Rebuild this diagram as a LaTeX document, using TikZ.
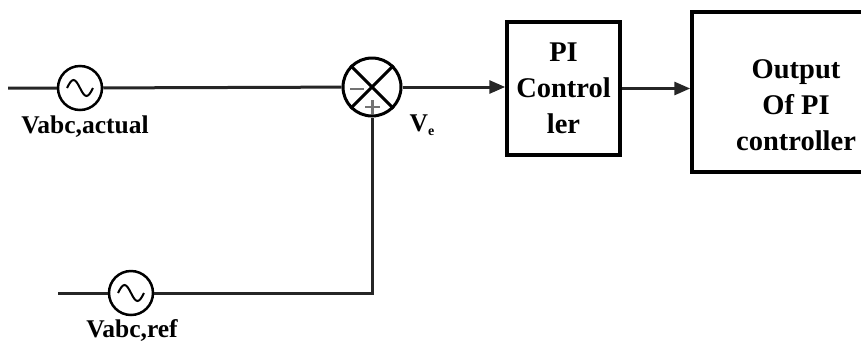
\documentclass[tikz,border=0pt]{standalone}
\usepackage{fontspec}
\setmainfont{Liberation Serif}
\usetikzlibrary{arrows.meta}
\begin{document}
\begin{tikzpicture}[x=1pt, y=-1pt,
    wire/.style={line width=3pt, draw=black!85},
    acsrc/.style={circle, draw, line width=2.5pt, minimum size=44pt, inner sep=0pt},
    sumnode/.style={circle, draw, line width=3pt, minimum size=58pt, inner sep=0pt},
    block/.style={rectangle, draw, line width=3.5pt, inner sep=0pt, align=center,
        font=\fontsize{28.5}{36}\selectfont\bfseries},
    lbl/.style={font=\fontsize{25.5}{28}\selectfont\bfseries, inner sep=0pt},
    sig/.style={wire, -{Triangle[length=16pt, width=13pt]}},
    sign/.style={line width=2.5pt, draw=black!55}]

    \useasboundingbox (0,0) rectangle (861,341);
    \clip (0,0) rectangle (861,341);

    \node[acsrc] (src1) at (80,88) {};
    \node[acsrc] (src2) at (131,293) {};
    \node[sumnode] (sum) at (372,87) {};
    \node[block, minimum width=113pt, minimum height=133pt] (pi) at (563.5,88.5) {PI\\Control\\ler};
    \node[block, minimum width=208pt, minimum height=160pt] (out) at (796,92) {};
    \node[block, draw=none] (outtxt) at (796,105) {Output\\Of PI\\controller};

    \coordinate (in1) at (8,88);
    \coordinate (in2) at (58,293);
    \coordinate (corner) at (sum.south |- src2);

    \draw[wire] (in1) -- (src1) -- (sum);
    \draw[wire] (in2) -- (src2) -- (corner) -- (sum);
    \draw[sig] (sum.east) -- (sum.east -| pi.west);
    \draw[sig] (pi.east) -- (pi.east -| out.west);

    % sine in the sources, cross and signs in the summing point
    \foreach \s in {src1,src2}
        \draw[line width=2pt] ([xshift=-13pt]\s.center) sin ++(6.5,-8) cos ++(6.5,8) sin ++(6.5,8) cos ++(6.5,-8);
    \draw[line width=3pt] (sum.45) -- (sum.225) (sum.135) -- (sum.315);
    \draw[sign] (350,89) -- (364,89);
    \draw[sign] (365,107) -- (380,107) (372.5,100) -- (372.5,114);

    \node[lbl] (lab1) at (85,127) {Vabc,actual};
    \node[lbl] (lab2) at (132,330) {Vabc,ref};
    \node[lbl] (ve) at (422,125) {V\raisebox{-4pt}{\fontsize{14}{14}\selectfont e}};

\end{tikzpicture}
\end{document}
